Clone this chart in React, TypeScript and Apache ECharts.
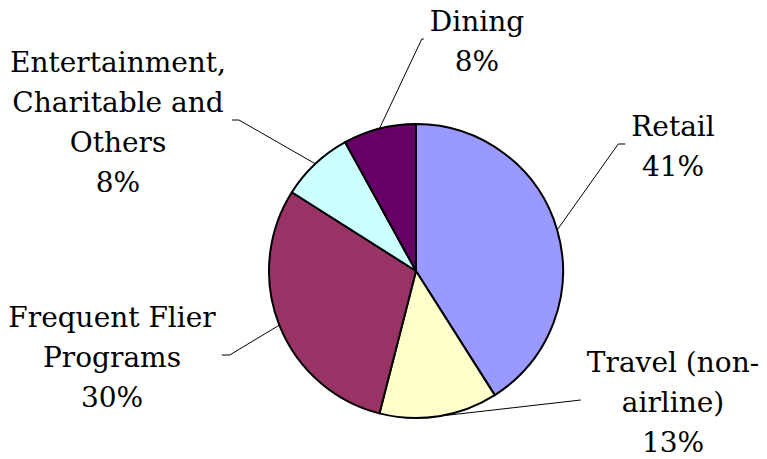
import React, { useEffect, useRef } from "react";
import * as echarts from "echarts";

const categories = [
  "Retail",
  "Travel (non-airline)",
  "Frequent Flier Programs",
  "Entertainment, Charitable and Others",
  "Dining",
];
const labelTexts = [
  "Retail",
  "Travel (non-\nairline)",
  "Frequent Flier\nPrograms",
  "Entertainment,\nCharitable and\nOthers",
  "Dining",
];
const shares = [41, 13, 30, 8, 8];
const colors = ["#9999FF", "#FFFFCC", "#993366", "#CCFFFF", "#660066"];

// label block centres and leader tail lengths (layout only)
const labelCenters: [number, number][] = [
  [673, 146],
  [673, 402],
  [112, 357],
  [118, 122],
  [477, 41],
];
const tails = [7, 0, 8, 7, 2];

export default function App() {
  const ref = useRef<HTMLDivElement>(null);
  useEffect(() => {
    document.body.style.margin = "0";
    const chart = echarts.init(ref.current!, null, { renderer: "svg" });
    chart.setOption({
      animation: false,
      backgroundColor: "#ffffff",
      series: [
        {
          type: "pie",
          center: [416, 271],
          radius: 147,
          startAngle: 90,
          clockwise: true,
          data: categories.map((c, i) => ({
            name: c,
            value: shares[i],
            itemStyle: { color: colors[i] },
          })),
          itemStyle: { borderColor: "#000", borderWidth: 2 },
          emphasis: { disabled: true },
          label: {
            show: true,
            position: "outside",
            formatter: (p: any) => labelTexts[p.dataIndex] + "\n" + shares[p.dataIndex] + "%",
            fontFamily: "DejaVu Serif",
            fontSize: 28,
            lineHeight: 40,
            color: "#000",
            align: "center",
          },
          labelLine: {
            show: true,
            length: 20,
            length2: 10,
            lineStyle: { color: "#000", width: 1 },
          },
          labelLayout: (p: any) => {
            const i = p.dataIndex;
            const [cx, cy] = labelCenters[i];
            const w = p.labelRect.width;
            const start = p.labelLinePoints ? p.labelLinePoints[0] : [cx, cy];
            const right = cx < 416;
            const endX = right ? cx + w / 2 + 6 : cx - w / 2 - 6;
            const ly = cy - 2;
            const elbowX = right ? endX + tails[i] : endX - tails[i];
            return {
              x: cx,
              y: cy,
              align: "center",
              verticalAlign: "middle",
              labelLinePoints: [start, [elbowX, ly], [endX, ly]],
            };
          },
        },
      ],
    });
    return () => chart.dispose();
  }, []);
  return <div ref={ref} style={{ width: 767, height: 459 }} />;
}
